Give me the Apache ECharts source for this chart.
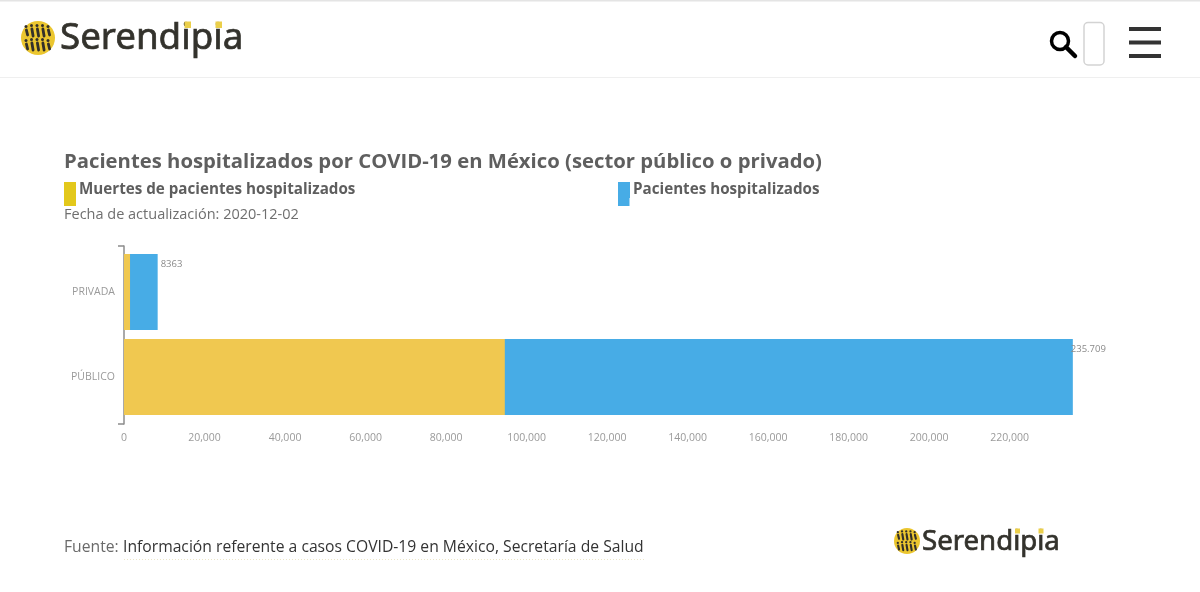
<!DOCTYPE html>
<html><head><meta charset="utf-8">
<style>html,body{margin:0;padding:0;background:#fff}#c{width:1200px;height:592px}</style>
<script src="https://cdn.jsdelivr.net/npm/echarts@6/dist/echarts.min.js"></script>
</head><body><div id="c"></div>
<script>
const categories = ['PÚBLICO', 'PRIVADA'];
const hospitalizados = [235709, 8363];
const muertes = [94600, 1500];
const etiquetas = ['235.709', '8363'];
const nombreMuertes = 'Muertes de pacientes hospitalizados';
const nombreHosp = 'Pacientes hospitalizados';
const titulo = 'Pacientes hospitalizados por COVID-19 en México (sector público o privado)';
const fecha = 'Fecha de actualización: 2020-12-02';
const fuenteA = 'Fuente:';
const fuenteB = 'Información referente a casos COVID-19 en México, Secretaría de Salud';
const marca = 'Serendipia';

const FONT = '"Open Sans", sans-serif';
const YEL = '#F0C850', BLU = '#47ACE6', AX = '#8c8c8c', SW = '#E3C81B';

function logo(cx, cy, r, tx, fs, tyc, dots, ds) {
  const out = [{type:'circle', shape:{cx, cy, r}, style:{fill:'#EBC62F'}}];
  const k = r / 17;
  [-7.5, 6.5].forEach(dy => {
    [-11,-5.5,0,5.5,11].forEach(dx => {
      const h = Math.abs(dx) > 8 ? 2.5 : 3.5;
      out.push({type:'line', shape:{x1:cx+(dx-0.6)*k, y1:cy+(dy-h+2)*k, x2:cx+(dx+0.6)*k, y2:cy+(dy+h+2)*k},
        style:{stroke:'#33302a', lineWidth:2.8*k, lineCap:'round'}});
      out.push({type:'circle', shape:{cx:cx+(dx-1)*k, cy:cy+(dy-h-1.5)*k, r:1.5*k}, style:{fill:'#33302a'}});
    });
  });
  out.push({type:'text', style:{x:tx, y:tyc, text:marca, font:`${fs}px "Noto Sans", sans-serif`, fill:'#33322c', stroke:'#33322c', lineWidth:0.7, verticalAlign:'middle'}});
  dots.forEach(d => out.push({type:'rect', shape:{x:d[0], y:d[1], width:ds, height:ds}, style:{fill:'#EBCF4A'}, z:5}));
  return out;
}
const txt = (x, y, text, font, fill) => ({type:'text', style:{x, y, text, font, fill, verticalAlign:'middle'}});

const graphics = [
  {type:'rect', shape:{x:0,y:0,width:1200,height:1.5}, style:{fill:'#e4e4e4'}},
  {type:'rect', shape:{x:0,y:77,width:1200,height:1}, style:{fill:'#efefef'}},
  ...logo(38, 38, 17, 60, 36.7, 39, [[184.5,21.5],[215.5,21.5]], 6.5),
  ...logo(907, 541, 13, 922, 27.6, 542, [[1015,528.5],[1038.5,528.5]], 5),
  {type:'circle', shape:{cx:1060,cy:41,r:8.5}, style:{fill:'none', stroke:'#000', lineWidth:3.5}},
  {type:'line', shape:{x1:1066,y1:47,x2:1075,y2:56}, style:{stroke:'#000', lineWidth:4.5, lineCap:'round'}},
  {type:'rect', shape:{x:1084,y:22.5,width:20,height:42.5,r:4}, style:{fill:'#fff', stroke:'#d3d3d3', lineWidth:1.5}},
  {type:'rect', shape:{x:1129,y:27,width:32,height:4}, style:{fill:'#333'}},
  {type:'rect', shape:{x:1129,y:40.5,width:32,height:4}, style:{fill:'#333'}},
  {type:'rect', shape:{x:1129,y:54,width:32,height:4}, style:{fill:'#333'}},
  {type:'rect', shape:{x:64,y:197,width:12,height:9}, style:{fill:SW}},
  {type:'rect', shape:{x:618,y:197,width:11.5,height:9}, style:{fill:BLU}},
  txt(64, 215, fecha, `14.5px ${FONT}`, '#6f6f6f'),
  txt(64, 548, fuenteA, `15.7px ${FONT}`, '#6a6a6a'),
  txt(123, 548, fuenteB, `15.7px ${FONT}`, '#333'),
  {type:'line', shape:{x1:124,y1:559.5,x2:644,y2:559.5}, style:{stroke:'#ece6c8', lineWidth:1, lineDash:[1,2]}}
];

const legendBase = {orient:'horizontal', padding:0, itemWidth:12, itemHeight:16, itemGap:3, selectedMode:false, icon:'rect',
  textStyle:{fontFamily:FONT, fontWeight:'bold', fontSize:15.2, color:'#5e5e5e', padding:[0,0,0,-2]}};

const option = {
  animation:false,
  backgroundColor:'#fff',
  textStyle:{fontFamily:FONT},
  title:{text:titulo, left:64, top:152, padding:0, textStyle:{fontFamily:FONT, fontWeight:'bold', fontSize:20.3, color:'#5f5f5f'}},
  legend:[
    {...legendBase, left:64, top:182, data:[{name:nombreMuertes, itemStyle:{color:SW}}]},
    {...legendBase, left:618, top:182, data:[{name:nombreHosp, itemStyle:{color:BLU}}]}
  ],
  grid:[
    {left:124, top:249.5, width:950, height:170, containLabel:false},
    {left:124, top:246, width:950, height:178, show:false}
  ],
  xAxis:[
    {type:'value', gridIndex:0, min:0, max:236000, interval:20000, splitLine:{show:false}, axisLine:{show:false}, axisTick:{show:false},
      axisLabel:{showMaxLabel:false, color:'#9a9a9a', fontSize:10.5, margin:13, formatter:v=>v.toLocaleString('en-US')}},
    {type:'value', gridIndex:1, min:0, max:236000, show:false}
  ],
  yAxis:[
    {type:'category', gridIndex:0, data:categories, axisLine:{show:false}, axisTick:{show:false},
      axisLabel:{color:'#9a9a9a', fontSize:10.5, margin:9}},
    {type:'category', gridIndex:1, data:categories, axisLabel:{show:false},
      axisLine:{show:true, lineStyle:{color:AX, width:1.5}},
      axisTick:{show:true, length:6, interval:(i)=>i===0, lineStyle:{color:AX, width:1.5}}}
  ],
  series:[
    {name:nombreHosp, type:'bar', xAxisIndex:0, yAxisIndex:0, barWidth:76, barGap:'-100%', z:2, itemStyle:{color:BLU},
      data:hospitalizados.map((v,i)=>({value:v, label:{show:true, position:'right', distance:0,
        formatter:etiquetas[i], color:'#8a8a8a', fontSize:9.5, offset:i===0?[-2,-28]:[3,-28]}}))},
    {name:nombreMuertes, type:'bar', xAxisIndex:0, yAxisIndex:0, barWidth:76, barGap:'-100%', z:3, itemStyle:{color:YEL},
      data:muertes}
  ],
  graphic:{elements:graphics}
};
echarts.init(document.getElementById('c'), null, {renderer:'canvas'}).setOption(option);
</script></body></html>
